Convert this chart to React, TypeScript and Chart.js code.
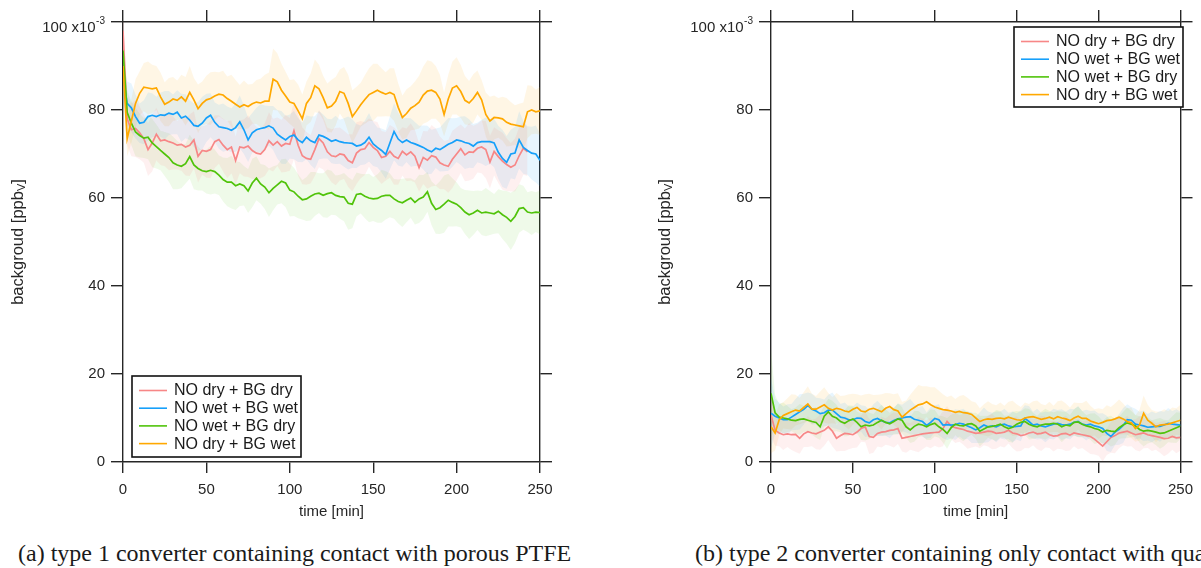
import React, { useEffect, useRef } from 'react';
import { Chart, registerables } from 'chart.js';

Chart.register(...registerables);

const FONT = '"Liberation Sans", Arial, sans-serif';
const AXIS = '#262626';

// time axis [min]
const times = [
  0, 2.5, 5, 7.5, 10, 12.5, 15, 17.5, 20, 22.5,
  25, 27.5, 30, 32.5, 35, 37.5, 40, 42.5, 45, 47.5,
  50, 52.5, 55, 57.5, 60, 62.5, 65, 67.5, 70, 72.5,
  75, 77.5, 80, 82.5, 85, 87.5, 90, 92.5, 95, 97.5,
  100, 102.5, 105, 107.5, 110, 112.5, 115, 117.5, 120, 122.5,
  125, 127.5, 130, 132.5, 135, 137.5, 140, 142.5, 145, 147.5,
  150, 152.5, 155, 157.5, 160, 162.5, 165, 167.5, 170, 172.5,
  175, 177.5, 180, 182.5, 185, 187.5, 190, 192.5, 195, 197.5,
  200, 202.5, 205, 207.5, 210, 212.5, 215, 217.5, 220, 222.5,
  225, 227.5, 230, 232.5, 235, 237.5, 240, 242.5, 245, 247.5,
  250,
];

const seriesLabels = ['NO dry + BG dry', 'NO wet + BG wet', 'NO wet + BG dry', 'NO dry + BG wet'];
const lineColors = ['rgb(247,135,135)', 'rgb(22,160,250)', 'rgb(80,195,10)', 'rgb(255,168,0)'];
const bandColors = ['rgba(247,135,135,0.12)', 'rgba(22,160,250,0.10)', 'rgba(80,195,10,0.09)', 'rgba(255,168,0,0.10)'];

const xTickStep = 50;
const yTickStep = 20;

// ---------- (a) type 1 converter ----------
const pinkA = [
  98, 78, 75.5, 75.8, 74.8, 73.5, 71.0, 72.5, 74.5, 73.0,
  73.2, 72.8, 72.5, 72.0, 72.2, 71.6, 72.0, 73.2, 69.5, 70.8,
  70.6, 71.0, 72.8, 73.3, 72.0, 71.0, 71.6, 68.5, 71.6, 71.4,
  71.8, 70.8, 70.2, 70.0, 71.0, 73.0, 72.0, 72.8, 71.8, 72.4,
  72.2, 75.3, 72.0, 69.6, 69.0, 68.8, 71.0, 73.5, 72.5, 70.5,
  69.6, 69.4, 70.0, 69.8, 68.5, 68.0, 70.2, 71.0, 71.2, 72.6,
  71.5, 70.8, 69.2, 69.5, 70.6, 69.5, 69.0, 70.6, 69.8, 70.5,
  69.5, 66.9, 69.2, 68.6, 69.6, 69.3, 68.0, 67.5, 67.2, 68.8,
  70.0, 71.2, 69.8, 70.5, 70.4, 71.3, 71.6, 71.0, 68.2, 70.6,
  69.4, 68.4, 67.6, 67.0, 67.5, 69.6, 71.3, 70.5, null, null,
  null,
];
const blueA = [
  88, 81.5, 80.5, 78.5, 77.0, 77.2, 78.5, 78.8, 78.5, 78.9,
  78.8, 79.3, 79.0, 79.5, 78.2, 78.6, 77.7, 76.5, 76.3, 77.0,
  78.2, 78.8, 77.2, 76.2, 76.0, 75.8, 75.4, 76.0, 77.3, 75.5,
  73.2, 74.8, 75.5, 75.8, 76.0, 76.4, 75.9, 74.5, 73.8, 73.2,
  74.0, 74.3, 73.2, 72.6, 73.8, 73.0, 72.6, 74.3, 74.0, 73.5,
  72.9, 73.2, 72.8, 72.6, 72.5, 72.4, 71.8, 72.0, 72.6, 73.8,
  72.3, 71.5, 70.8, 69.9, 72.5, 75.1, 73.4, 72.6, 73.2, 72.6,
  72.3, 71.9, 71.5, 70.9, 70.5, 71.3, 71.0, 71.6, 72.2, 72.6,
  73.2, 73.0, 72.6, 72.4, 71.8, 72.6, 72.8, 72.8, 72.8, 72.5,
  70.4, 69.0, 68.1, 70.0, 70.2, 73.2, 71.5, 70.8, 70.2, 70.0,
  68.6,
];
const greenA = [
  93.5, 79.5, 77.0, 75.0, 74.2, 73.6, 73.8, 72.5, 71.7, 70.8,
  70.0, 69.2, 68.0, 67.5, 67.2, 67.8, 69.4, 67.5, 66.7, 66.2,
  66.0, 66.3, 66.0, 65.2, 64.2, 63.6, 63.6, 62.8, 63.2, 62.8,
  61.6, 63.4, 64.5, 63.2, 62.5, 61.2, 62.2, 63.0, 63.8, 63.4,
  61.8, 61.4, 60.4, 59.6, 59.8, 60.4, 60.9, 61.1, 60.6, 61.0,
  61.2, 60.6, 60.3, 60.2, 58.8, 58.6, 60.8, 61.0, 60.4, 60.0,
  59.8, 59.9, 60.4, 60.6, 60.6, 59.8, 59.2, 58.9, 59.5, 60.0,
  59.0, 59.8, 60.2, 61.4, 58.8, 57.4, 57.8, 58.6, 59.5, 59.0,
  58.6, 57.8, 56.8, 56.2, 56.6, 57.2, 56.6, 56.8, 56.6, 56.4,
  57.0, 56.2, 55.6, 54.7, 55.8, 57.6, 57.8, 56.8, 56.6, 56.8,
  56.7,
];
const orangeA = [
  90, 73.5, 77.5, 81.5, 83.8, 85.2, 85.0, 84.8, 85.0, 83.0,
  81.3, 81.8, 82.5, 82.2, 83.0, 82.0, 84.0, 82.3, 80.3, 81.5,
  82.3, 82.6, 83.2, 83.6, 83.4, 82.6, 82.0, 81.3, 80.7, 81.2,
  80.8, 81.4, 81.8, 81.6, 82.0, 82.0, 87.0, 86.4, 84.5, 83.2,
  81.8, 81.5, 79.8, 78.0, 81.5, 82.8, 85.5, 84.8, 82.8, 80.5,
  80.9, 82.0, 84.2, 83.8, 81.5, 78.5, 79.8, 81.2, 82.4, 83.5,
  84.0, 84.5, 84.0, 83.6, 84.0, 83.5, 80.6, 78.3, 79.2, 80.4,
  81.0, 81.8, 83.4, 84.3, 84.5, 84.0, 82.5, 79.0, 82.5, 85.0,
  85.5, 84.2, 82.2, 81.6, 82.6, 84.0, 82.3, 79.0, 77.5, 78.3,
  78.2, 78.0, 77.2, 76.8, 76.6, 76.4, 76.2, 79.6, 80.0, 79.6,
  79.8,
];

const pinkSdA = [
  5, 6, 6, 6.5, 6, 5.5, 6, 6.5, 6, 5.5,
  6, 6.5, 6, 5.5, 6, 6.5, 7, 6.5, 6, 5.5,
  6, 6.5, 6, 5.5, 6, 6.5, 6, 5.5, 6, 6.5,
  7, 6.5, 6, 5.5, 6, 6.5, 6, 5.5, 6, 6.5,
  6, 6.5, 7, 6.5, 6, 5.5, 6, 6.5, 6, 5.5,
  6, 6.5, 6, 5.5, 6, 6.5, 7, 6.5, 6, 5.5,
  6, 6.5, 6, 5.5, 6, 6.5, 6, 5.5, 6, 6.5,
  6, 5.5, 6, 6.5, 7, 6.5, 6, 5.5, 6, 6.5,
  6, 5.5, 6, 6.5, 6, 5.5, 6, 6.5, 6, 5.5,
  6, 6.5, 6, 5.5, 6, 6.5, 6, 5.5, null, null,
  null,
];
const blueSdA = [
  4, 5, 5.5, 5, 4.5, 5, 5.5, 5, 4.5, 5,
  5.5, 5, 4.5, 5, 5.5, 5, 4.5, 5, 5.5, 6,
  5.5, 5, 4.5, 5, 5.5, 5, 5, 5.5, 6, 5.5,
  5, 4.5, 5, 5.5, 5, 4.5, 5, 5.5, 6, 5.5,
  5, 5.5, 5, 4.5, 5, 5.5, 6, 5.5, 5, 4.5,
  5, 5.5, 5, 5.5, 6, 5.5, 5, 4.5, 5, 5.5,
  5, 4.5, 5, 5.5, 6, 6.5, 6, 5.5, 5, 5.5,
  5, 4.5, 5, 5.5, 5, 4.5, 5, 5.5, 6, 5.5,
  5, 5.5, 6, 5.5, 5, 4.5, 5, 5.5, 5, 5.5,
  6, 6.5, 6, 5.5, 6, 6.5, 6, 5.5, 6, 6.5,
  6,
];
const greenSdA = [
  4, 5, 5, 5.5, 5, 4.5, 5, 5.5, 5, 4.5,
  5, 5.5, 6, 5.5, 5, 4.5, 5, 5.5, 5, 4.5,
  5, 5.5, 5, 4.5, 5, 5.5, 6, 5.5, 5, 4.5,
  5, 5.5, 5, 4.5, 5, 5.5, 5, 4.5, 5, 5.5,
  6, 5.5, 5, 4.5, 5, 5.5, 5, 4.5, 5, 5.5,
  5, 4.5, 5, 5.5, 6, 5.5, 5, 4.5, 5, 5.5,
  5, 5.5, 6, 5.5, 5, 4.5, 5, 5.5, 5, 4.5,
  5, 5.5, 5, 4.5, 5, 5.5, 6, 6.5, 6, 5.5,
  5, 4.5, 5, 5.5, 5, 4.5, 5, 5.5, 5, 4.5,
  5, 5.5, 6, 6.5, 6, 5.5, 5, 4.5, 5, 4.5,
  5,
];
const orangeSdA = [
  3, 4, 5, 5.5, 5, 5.5, 6, 5.5, 5, 5.5,
  5, 5.5, 5, 4.5, 5, 5.5, 6, 5, 5.5, 5,
  5.5, 6, 5.5, 5, 5.5, 5, 6, 5.5, 5, 5.5,
  5, 4.5, 5, 5.5, 6, 6.5, 7, 6.5, 6, 5.5,
  5, 5.5, 6, 5.5, 5, 5.5, 6, 5.5, 5, 5.5,
  6, 5.5, 5, 6, 6.5, 6, 5.5, 5, 5.5, 6,
  6.5, 6, 5.5, 5, 5.5, 6, 5.5, 5, 5.5, 5,
  5.5, 6, 6.5, 7, 6.5, 6, 5.5, 5, 5.5, 6,
  6.5, 6, 5.5, 5, 5.5, 5, 4.5, 5, 5.5, 5,
  4.5, 5, 5.5, 5, 4.5, 5, 5.5, 6, 5.5, 5,
  5.5,
];

// ---------- (b) type 2 converter ----------
const pinkB = [
  10.7, 7.2, 6.6, 6.2, 6.4, 6.2, 6.3, 5.4, 6.4, 6.9,
  6.6, 6.4, 6.8, 7.2, 8.0, 7.0, 5.4, 6.0, 6.5, 6.4,
  6.2, 6.8, 7.6, 8.0, 5.8, 5.6, 6.5, 6.8, 6.9, 7.2,
  7.3, 7.6, 5.4, 5.6, 5.8, 6.0, 6.2, 6.4, 6.5, 6.6,
  6.7, 6.8, 7.6, 9.2, 8.2, 7.8, 7.6, 7.4, 7.0, 6.8,
  6.5, 6.6, 6.8, 7.0, 6.9, 6.5, 6.6, 6.8, 7.2, 6.6,
  6.4, 6.0, 6.2, 6.6, 6.8, 6.4, 6.5, 6.8, 6.2, 5.9,
  6.0, 6.4, 6.5, 6.1, 6.6, 6.4, 6.2, 6.0, 5.8, 5.2,
  4.4, 3.6, 4.6, 5.6, 6.0, 6.6, 6.8, 7.0, 6.6, 6.2,
  6.4, 6.6, 6.2, 6.0, 5.8, 5.6, 5.3, 5.4, 5.8, 5.5,
  5.6,
];
const blueB = [
  11.1, 10.4, 10.0, 9.6, 9.6, 10.2, 10.8, 11.4, 12.0, 12.8,
  12.0, 11.6, 11.0, 11.2, 11.8, 11.8, 11.0, 10.2, 10.0, 9.6,
  9.6, 10.0, 9.9, 9.2, 8.9, 9.6, 9.9, 9.4, 9.0, 8.9,
  9.4, 9.8, 10.0, 10.2, 10.3, 9.7, 9.5, 9.2, 8.3, 9.0,
  9.9, 9.6, 8.4, 8.5, 8.4, 8.5, 8.8, 8.6, 8.2, 7.8,
  7.3, 7.8, 8.4, 8.0, 8.2, 8.0, 8.4, 8.6, 8.2, 8.0,
  8.1, 8.2, 9.9, 9.2, 8.4, 8.6, 8.2, 8.0, 8.3, 8.6,
  8.8, 8.5, 8.4, 8.6, 9.0, 9.2, 8.6, 8.4, 8.6, 8.2,
  8.0, 7.6, 6.5, 5.8, 6.8, 7.4, 8.3, 9.6, 9.5, 8.6,
  8.4, 8.2, 7.9, 8.0, 8.1, 8.1, 8.4, 8.8, 8.6, 8.5,
  8.4,
];
const greenB = [
  15.6, 11.2, 10.2, 10.0, 9.8, 9.5, 9.4, 9.7, 9.8, 9.5,
  9.2, 9.0, 8.0, 10.4, 11.4, 10.4, 10.0, 9.2, 8.8, 9.4,
  9.8, 9.0, 8.0, 8.4, 8.2, 8.4, 9.0, 9.5, 9.0, 8.7,
  9.2, 9.8, 9.5, 8.0, 7.3, 8.1, 8.6, 8.4, 8.0, 8.5,
  8.8, 8.0, 7.4, 6.5, 7.8, 8.6, 8.3, 8.2, 8.6, 8.7,
  8.2, 7.0, 7.5, 8.0, 8.1, 8.3, 8.6, 8.0, 7.6, 7.9,
  8.6, 9.0, 9.2, 8.6, 8.2, 8.0, 8.4, 8.6, 8.6, 8.8,
  8.6, 8.0, 8.4, 8.2, 9.0, 9.1, 8.6, 8.2, 8.0, 7.6,
  7.4, 6.8, 7.2, 7.0, 6.9, 7.8, 8.4, 8.9, 8.6, 8.2,
  7.4, 7.0, 7.2, 7.0, 6.8, 6.5, 6.6, 7.0, 7.4, 7.8,
  8.2,
];
const orangeB = [
  8.0, 6.6, 9.6, 10.6, 11.0, 11.4, 11.8, 11.6, 12.4, 13.2,
  12.0, 12.0, 12.5, 13.0, 12.2, 11.8, 12.2, 12.0, 11.6, 11.4,
  12.0, 12.4, 11.6, 11.4, 12.0, 12.2, 11.8, 11.4, 12.2, 12.6,
  11.9, 11.6, 10.2, 11.0, 11.8, 12.4, 13.0, 13.2, 13.7, 13.0,
  12.5, 12.2, 11.9, 11.8, 11.6, 11.3, 11.5, 11.2, 11.1, 10.8,
  10.0, 9.2, 9.6, 9.8, 9.7, 9.9, 10.0, 9.8, 10.2, 9.9,
  9.6, 9.5, 10.0, 10.2, 10.3, 10.0, 9.7, 9.9, 10.2, 9.8,
  10.3, 10.0, 9.8, 9.4, 10.0, 10.4, 9.9, 9.9, 9.3, 9.0,
  8.7, 9.0, 9.4, 9.5, 9.8, 10.2, 9.8, 9.2, 8.9, 7.6,
  8.4, 11.1, 9.5, 8.8, 8.0, 8.4, 8.5, 8.6, 8.9, 9.2,
  9.5,
];

const pinkSdB = [
  5, 3.5, 3, 3.5, 3, 3.5, 4, 3.5, 3, 3.5,
  3, 3.5, 4, 3.5, 3, 3.5, 3, 3.5, 4, 3.5,
  3, 3.5, 3, 3.5, 4, 3.5, 3, 3.5, 3, 3.5,
  4, 3.5, 3, 3.5, 3, 3.5, 4, 3.5, 3, 3.5,
  3, 3.5, 4, 3.5, 3, 3.5, 3, 3.5, 4, 3.5,
  3, 3.5, 3, 3.5, 4, 3.5, 3, 3.5, 3, 3.5,
  4, 3.5, 3, 3.5, 3, 3.5, 4, 3.5, 3, 3.5,
  3, 3.5, 4, 3.5, 3, 3.5, 3, 3.5, 4, 3.5,
  3, 3.5, 3, 3.5, 4, 3.5, 3, 3.5, 3, 3.5,
  4, 3.5, 3, 3.5, 3, 3.5, 4, 3.5, 3, 3.5,
  3,
];
const blueSdB = [
  8, 4, 3.5, 3, 3.5, 3, 3.5, 4, 3.5, 3,
  3.5, 3, 3.5, 3, 3.5, 4, 3.5, 3, 3.5, 3,
  3, 3.5, 3, 3.5, 3, 3.5, 4, 3.5, 3, 3.5,
  3, 3.5, 3, 3.5, 4, 3.5, 3, 3.5, 3, 3.5,
  3, 3.5, 3, 3.5, 3, 3.5, 3, 3.5, 3, 3.5,
  3, 3.5, 4, 3.5, 3, 3.5, 3, 3.5, 3, 3.5,
  3, 3.5, 3, 3.5, 3, 3.5, 3, 3.5, 3, 3.5,
  3, 3.5, 3, 3.5, 3, 3.5, 3, 3.5, 3, 3.5,
  3, 3.5, 4, 3.5, 3, 3.5, 4, 3.5, 3, 3.5,
  3, 3.5, 3, 3.5, 3, 3.5, 3, 3.5, 3, 3.5,
  3,
];
const greenSdB = [
  10, 4, 3, 3.5, 3, 2.5, 3, 3.5, 3, 2.5,
  3, 3.5, 3, 2.5, 3, 3.5, 3, 2.5, 3, 3.5,
  3, 2.5, 3, 3.5, 3, 2.5, 3, 3.5, 3, 2.5,
  3, 3.5, 3, 2.5, 3, 3.5, 3, 2.5, 3, 3.5,
  3, 2.5, 3, 3.5, 3, 2.5, 3, 3.5, 3, 2.5,
  3, 3.5, 3, 2.5, 3, 3.5, 3, 2.5, 3, 3.5,
  3, 2.5, 3, 3.5, 3, 2.5, 3, 3.5, 3, 2.5,
  3, 3.5, 3, 2.5, 3, 3.5, 3, 2.5, 3, 3.5,
  3, 2.5, 3, 3.5, 3, 2.5, 3, 3.5, 3, 2.5,
  3, 3.5, 3, 2.5, 3, 3.5, 3, 2.5, 3, 3.5,
  3,
];
const orangeSdB = [
  6, 4, 3.5, 3, 3.5, 4, 3.5, 3, 3.5, 4,
  3.5, 3, 3.5, 4, 3.5, 3, 3.5, 3, 3.5, 4,
  3.5, 3, 3.5, 4, 3.5, 3, 3.5, 4, 3.5, 3,
  3.5, 4, 3.5, 3, 3.5, 4, 4.5, 4, 3.5, 4,
  4.5, 4, 3.5, 3, 3.5, 3, 3.5, 4, 3.5, 3,
  3.5, 3, 3.5, 4, 3.5, 3, 3.5, 3, 3.5, 4,
  3.5, 3, 3.5, 3, 3.5, 4, 3.5, 3, 3.5, 3,
  3.5, 4, 3.5, 3, 3.5, 3, 3.5, 4, 3.5, 3,
  3.5, 3, 3.5, 3, 3.5, 4, 3.5, 3, 3.5, 3,
  3.5, 4, 3.5, 3, 3.5, 3, 3.5, 3, 3.5, 3,
  3.5,
];

type Num = number | null;

interface PanelProps {
  means: Num[][];
  sds: Num[][];
  width: number;
  height: number;
  areaLeft: number;
  areaRight: number;
  areaTop: number;
  areaBottom: number;
  legendBox: { x: number; y: number; w: number; h: number };
  yTitleX: number;
}

function Panel(props: PanelProps) {
  const ref = useRef<HTMLCanvasElement>(null);
  useEffect(() => {
    const { means, sds, width, height, areaLeft, areaRight, areaTop, areaBottom, legendBox, yTitleX } = props;
    const datasets: any[] = [];
    means.forEach((m, s) => {
      const sd = sds[s];
      const upper = m.map((v, i) => ({ x: times[i], y: v == null || sd[i] == null ? null : v + (sd[i] as number) }));
      const lower = m.map((v, i) => ({ x: times[i], y: v == null || sd[i] == null ? null : v - (sd[i] as number) }));
      const line = m.map((v, i) => ({ x: times[i], y: v }));
      datasets.push({
        label: seriesLabels[s] + ' upper',
        data: upper,
        borderWidth: 0,
        borderColor: 'rgba(0,0,0,0)',
        pointRadius: 0,
        fill: false,
        order: 20 + s,
      });
      datasets.push({
        label: seriesLabels[s] + ' lower',
        data: lower,
        borderWidth: 0,
        borderColor: 'rgba(0,0,0,0)',
        backgroundColor: bandColors[s],
        pointRadius: 0,
        fill: '-1',
        order: 20 + s,
      });
      datasets.push({
        label: seriesLabels[s],
        data: line,
        borderColor: lineColors[s],
        borderWidth: 1.7,
        pointRadius: 0,
        fill: false,
        tension: 0,
        order: 3 - s,
      });
    });

    const gridOpts = (len: number) => ({
      drawOnChartArea: false,
      drawTicks: true,
      tickLength: len,
      color: AXIS,
      lineWidth: 1.4,
    });
    const borderOpts = { display: true, color: AXIS, width: 1.4 };
    const tickFont = { family: FONT, size: 15 };

    const deco = {
      id: 'deco',
      afterDraw(chart: any) {
        const ctx = chart.ctx as CanvasRenderingContext2D;
        const ca = chart.chartArea;
        const ya = chart.scales.y;
        ctx.save();
        ctx.fillStyle = AXIS;
        // top tick label with exponent
        const y100 = ya.getPixelForValue(100);
        const rightEdge = ca.left - 12 - 6;
        ctx.font = `10px ${FONT}`;
        const supW = ctx.measureText('-3').width;
        ctx.textAlign = 'left';
        ctx.textBaseline = 'middle';
        ctx.fillText('-3', rightEdge - supW, y100 - 0.5);
        ctx.font = `15px ${FONT}`;
        ctx.textAlign = 'right';
        ctx.fillText('100 x10', rightEdge - supW - 0.5, y100 + 6);

        // y axis title with subscript
        ctx.save();
        ctx.translate(yTitleX, (ca.top + ca.bottom) / 2);
        ctx.rotate(-Math.PI / 2);
        const main = 'backgroud [ppb';
        const sub = 'V';
        const end = ']';
        const big = `16.5px ${FONT}`;
        const small = `11px ${FONT}`;
        ctx.font = big;
        const wMain = ctx.measureText(main).width;
        const wEnd = ctx.measureText(end).width;
        ctx.font = small;
        const wSub = ctx.measureText(sub).width;
        const x0 = -(wMain + wSub + wEnd) / 2;
        ctx.textAlign = 'left';
        ctx.textBaseline = 'middle';
        ctx.font = big;
        ctx.fillText(main, x0, 0);
        ctx.font = small;
        ctx.fillText(sub, x0 + wMain, 4);
        ctx.font = big;
        ctx.fillText(end, x0 + wMain + wSub, 0);
        ctx.restore();

        // legend box
        const lb = legendBox;
        ctx.fillStyle = '#ffffff';
        ctx.fillRect(lb.x, lb.y, lb.w, lb.h);
        ctx.strokeStyle = '#111';
        ctx.lineWidth = 1.6;
        ctx.strokeRect(lb.x, lb.y, lb.w, lb.h);
        const items = chart.data.datasets.filter((d: any) => seriesLabels.includes(d.label));
        items.forEach((d: any, k: number) => {
          const cy = lb.y + 14.5 + k * 17.7;
          ctx.strokeStyle = d.borderColor;
          ctx.lineWidth = 1.6;
          ctx.beginPath();
          ctx.moveTo(lb.x + 7, cy);
          ctx.lineTo(lb.x + 35, cy);
          ctx.stroke();
          ctx.fillStyle = '#1a1a1a';
          ctx.font = `16px ${FONT}`;
          ctx.textAlign = 'left';
          ctx.textBaseline = 'middle';
          ctx.fillText(d.label, lb.x + 42, cy + 0.5);
        });
        ctx.restore();
      },
    };

    const chart = new Chart(ref.current as HTMLCanvasElement, {
      type: 'line',
      data: { datasets },
      options: {
        responsive: false,
        maintainAspectRatio: false,
        animation: false,
        devicePixelRatio: 1,
        layout: { padding: 0 },
        plugins: {
          legend: { display: false },
          tooltip: { enabled: false },
          filler: { propagate: false },
        },
        scales: {
          x: {
            type: 'linear',
            position: 'bottom',
            min: 0,
            max: 250,
            afterFit: (s: any) => { s.height = height - areaBottom; },
            ticks: { stepSize: xTickStep, font: tickFont, color: AXIS, padding: 8, maxRotation: 0, autoSkip: false },
            grid: gridOpts(11),
            border: borderOpts,
            title: {
              display: true,
              text: 'time [min]',
              font: { family: FONT, size: 15 },
              color: AXIS,
              padding: { top: 0, bottom: 9 },
            },
          },
          x2: {
            type: 'linear',
            position: 'top',
            min: 0,
            max: 250,
            afterFit: (s: any) => { s.height = areaTop; },
            ticks: { display: false, stepSize: xTickStep },
            grid: gridOpts(12),
            border: borderOpts,
          },
          y: {
            type: 'linear',
            position: 'left',
            min: 0,
            max: 100,
            afterFit: (s: any) => { s.width = areaLeft; },
            ticks: {
              stepSize: yTickStep,
              font: tickFont,
              color: AXIS,
              padding: 6,
              callback: (v: any) => (v === 100 ? '' : String(v)),
            },
            grid: gridOpts(12),
            border: borderOpts,
          },
          y2: {
            type: 'linear',
            position: 'right',
            min: 0,
            max: 100,
            afterFit: (s: any) => { s.width = width - areaRight; },
            ticks: { display: false, stepSize: yTickStep },
            grid: gridOpts(12),
            border: borderOpts,
          },
        },
      } as any,
      plugins: [deco],
    });
    return () => chart.destroy();
  }, []);
  return <canvas ref={ref} width={props.width} height={props.height} style={{ display: 'block' }} />;
}

const captionStyle: React.CSSProperties = {
  position: 'absolute',
  top: 541,
  fontFamily: '"Liberation Serif", "Times New Roman", serif',
  fontSize: 24,
  lineHeight: '24px',
  whiteSpace: 'nowrap',
  color: '#1a1a1a',
};

export default function App() {
  return (
    <div style={{ position: 'absolute', left: 0, top: 0, width: 1201, height: 568, overflow: 'hidden', background: '#fff' }}>
      <div style={{ position: 'absolute', left: 0, top: 0 }}>
        <Panel
          means={[pinkA, blueA, greenA, orangeA]}
          sds={[pinkSdA, blueSdA, greenSdA, orangeSdA]}
          width={600}
          height={530}
          areaLeft={123}
          areaRight={540}
          areaTop={22}
          areaBottom={462}
          legendBox={{ x: 132, y: 376, w: 169, h: 81 }}
          yTitleX={18}
        />
      </div>
      <div style={{ position: 'absolute', left: 600, top: 0 }}>
        <Panel
          means={[pinkB, blueB, greenB, orangeB]}
          sds={[pinkSdB, blueSdB, greenSdB, orangeSdB]}
          width={601}
          height={530}
          areaLeft={171}
          areaRight={587}
          areaTop={22}
          areaBottom={462}
          legendBox={{ x: 414, y: 27, w: 169, h: 80 }}
          yTitleX={665 - 600}
        />
      </div>
      <div style={{ ...captionStyle, left: 18 }}>(a) type 1 converter containing contact with porous PTFE</div>
      <div style={{ ...captionStyle, left: 695 }}>(b) type 2 converter containing only contact with quartz glass</div>
    </div>
  );
}
